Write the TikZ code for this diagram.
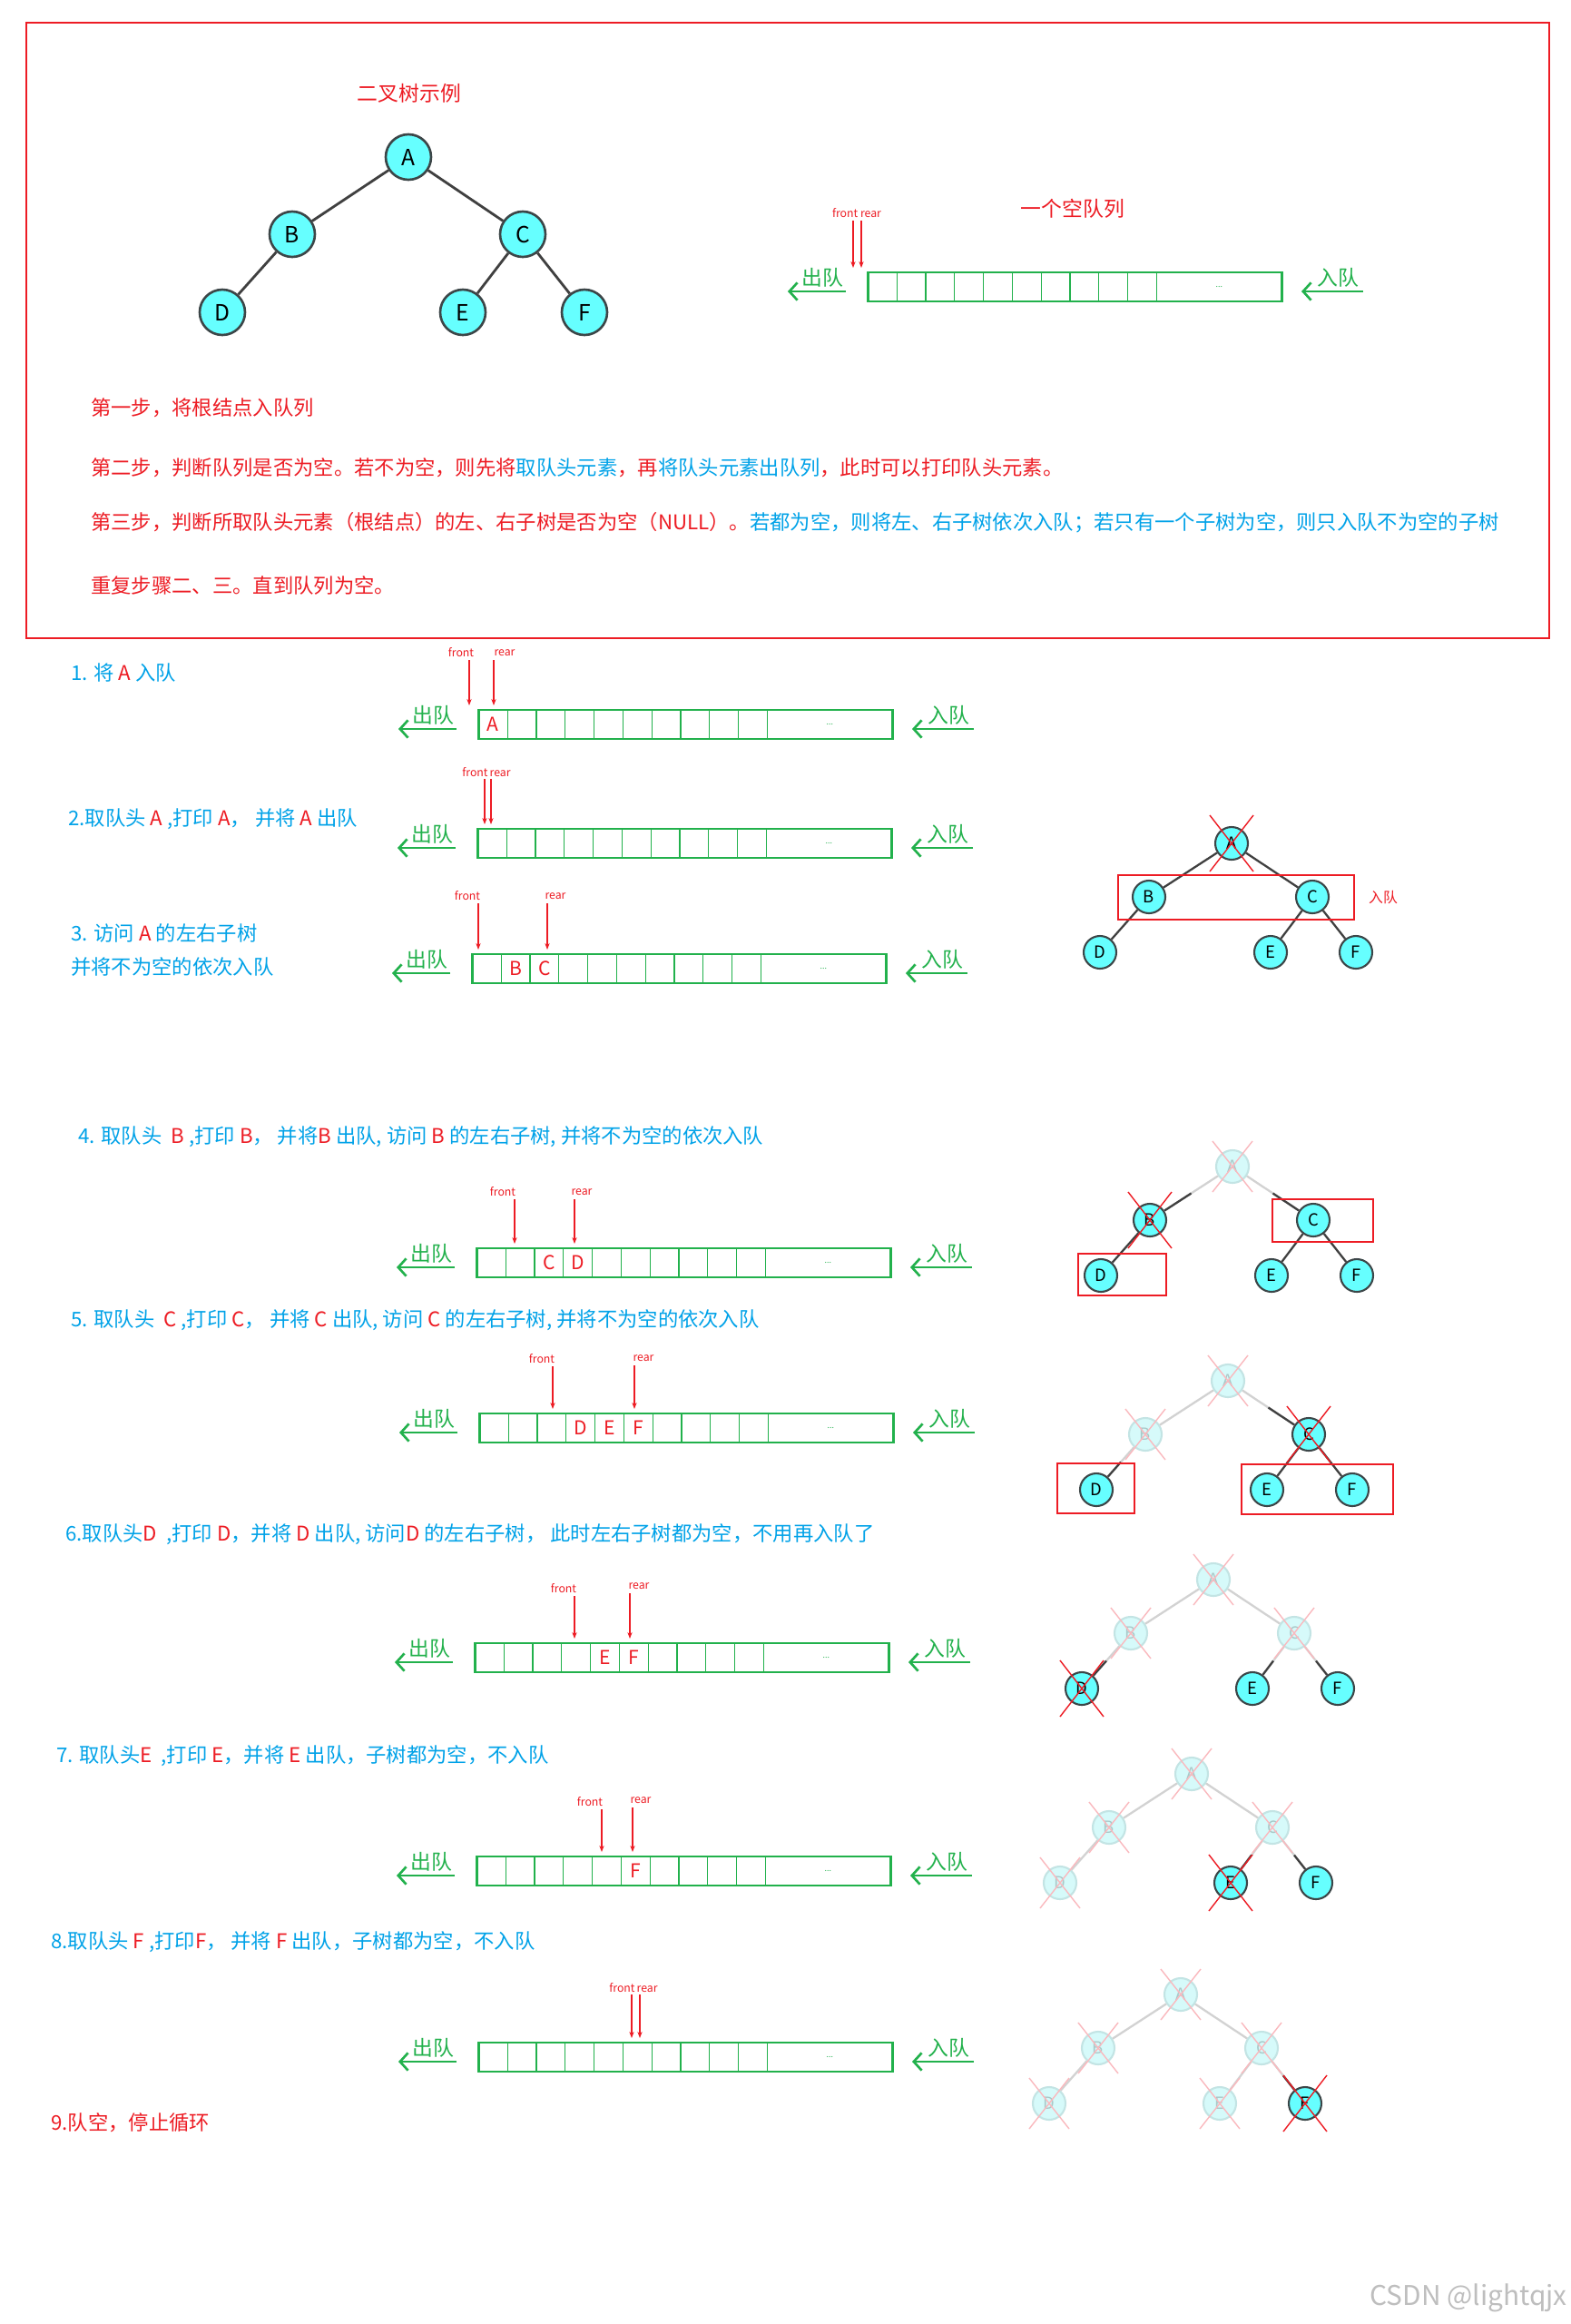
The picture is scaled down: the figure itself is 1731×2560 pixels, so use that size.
\documentclass[tikz,border=0pt]{standalone}
\usepackage{fontspec}
\setmainfont{Noto Sans CJK SC}
\usetikzlibrary{arrows.meta,calc}
\definecolor{qgreen}{RGB}{34,177,76}
\definecolor{tred}{RGB}{237,28,36}
\definecolor{tblue}{RGB}{0,162,232}
\definecolor{ncyan}{RGB}{102,255,255}
\definecolor{nborder}{RGB}{60,70,72}
\definecolor{edgedark}{RGB}{64,64,64}
\definecolor{fcyan}{RGB}{214,250,250}
\definecolor{fborder}{RGB}{195,228,228}
\definecolor{ftext}{RGB}{170,200,200}
\definecolor{fedge}{RGB}{210,210,210}
\definecolor{fred}{RGB}{250,185,190}
\definecolor{wmgray}{RGB}{190,190,190}
\newcommand{\Rd}[1]{\textcolor{tred}{#1}}
\newcommand{\Bl}[1]{\textcolor{tblue}{#1}}
\tikzset{
  lbl/.style={anchor=west, font=\fontsize{12.7}{14}\selectfont, inner sep=0},
  qcell/.style={minimum width=0.636cm, minimum height=0.64cm, inner sep=0, outer sep=0},
  qdots/.style={qcell, minimum width=2.76cm},
  qdiv/.style={draw=qgreen, line width=0.6pt},
  qframe/.style={draw=qgreen, line width=1.3pt},
  qtxt/.style={text=tred, font=\fontsize{12}{12}\selectfont, inner sep=0},
  qlab/.style={text=qgreen, font=\fontsize{13}{13}\selectfont, inner sep=0},
  qarr/.style={draw=qgreen, line width=1.5pt, -{Straight Barb[length=5pt,width=11pt]}},
  ptxt/.style={text=tred, font=\fontsize{7}{7}\selectfont, inner sep=0},
  ptr/.style={draw=tred, line width=0.6pt, -{Stealth[length=4pt,width=3pt]}},
  bignode/.style={circle, draw=nborder, fill=ncyan, line width=1.5pt, minimum size=1cm, inner sep=0, font=\fontsize{14}{14}\selectfont},
  st-n/.style={circle, draw=nborder, fill=ncyan, line width=1.2pt, minimum size=0.72cm, inner sep=0, font=\fontsize{10.5}{10.5}\selectfont},
  st-x/.style={st-n},
  st-f/.style={circle, draw=fborder, fill=fcyan, line width=1.2pt, minimum size=0.72cm, inner sep=0, text=ftext, font=\fontsize{10.5}{10.5}\selectfont},
  edark/.style={draw=edgedark, line width=1.3pt},
  efade/.style={draw=fedge, line width=1.3pt},
  xred/.style={draw=tred, line width=0.8pt},
  xfade/.style={draw=fred, line width=0.8pt},
  rbox/.style={draw=tred, line width=1.2pt},
}
\newcommand{\queue}[3]{%
  \foreach \i in {1,...,10}
    \node[qcell] (#1-\i) at ({#2+0.4+31.8*\i-15.9},{#3+16}) {};
  \node[qdots, anchor=west] (#1-d) at (#1-10.east) {};
  \node[font=\fontsize{5}{5}\selectfont, text=qgreen, inner sep=0] (#1-dt) at (#1-d) {...};
  \foreach \i in {1,...,10}
    \draw[qdiv] (#1-\i.north east) -- (#1-\i.south east);
  \draw[qframe] (#1-1.north west) rectangle (#1-d.south east);
  \node[qlab] (#1-ol) at ({#2-50},{#3+6}) {出队};
  \coordinate (#1-os) at ({#2-24},{#3+21});
  \coordinate (#1-oe) at ({#2-88},{#3+21});
  \draw[qarr] (#1-os) -- (#1-oe);
  \node[qlab] (#1-il) at ({#2+518},{#3+6}) {入队};
  \coordinate (#1-is) at ({#2+546},{#3+21});
  \coordinate (#1-ie) at ({#2+478},{#3+21});
  \draw[qarr] (#1-is) -- (#1-ie);
}
\newcommand{\qptr}[6]{%
  \node[ptxt] (#1) at (#3,#4) {#2};
  \coordinate (#1-s) at (#5,{#4+8});
  \coordinate (#1-e) at (#5,{#6-5});
  \draw[ptr] (#1-s) -- (#1-e);
}
\newcommand{\tedge}[4]{%
  \def\tmpf{f}\def\tmpa{#1}\def\tmpb{#2}%
  \ifx\tmpa\tmpf
    \ifx\tmpb\tmpf
      \draw[efade] (#3) -- (#4);
    \else
      \draw[efade] (#3) -- (#4);
      \draw[edark] ($(#3)!0.5!(#4)$) -- (#4);
    \fi
  \else
    \draw[edark] (#3) -- (#4);
  \fi
}
\newcommand{\tmark}[2]{%
  \def\tmpa{#1}\def\tmpx{x}\def\tmpf{f}%
  \ifx\tmpa\tmpx
    \draw[xred] ($(#2)+(-24,-31)$) -- ($(#2)+(24,31)$) ($(#2)+(24,-31)$) -- ($(#2)+(-24,31)$);
  \fi
  \ifx\tmpa\tmpf
    \draw[xfade] ($(#2)+(-22,-28)$) -- ($(#2)+(22,28)$) ($(#2)+(22,-28)$) -- ($(#2)+(-22,28)$);
  \fi
}
\newcommand{\smalltree}[9]{%
  \node[st-#4] (#1-A) at (#2,#3) {A};
  \node[st-#5] (#1-B) at ({#2-91},{#3+59}) {B};
  \node[st-#6] (#1-C) at ({#2+89},{#3+59}) {C};
  \node[st-#7] (#1-D) at ({#2-145},{#3+120}) {D};
  \node[st-#8] (#1-E) at ({#2+43},{#3+120}) {E};
  \node[st-#9] (#1-F) at ({#2+137},{#3+120}) {F};
  \tedge{#4}{#5}{#1-A}{#1-B}
  \tedge{#4}{#6}{#1-A}{#1-C}
  \tedge{#5}{#7}{#1-B}{#1-D}
  \tedge{#6}{#8}{#1-C}{#1-E}
  \tedge{#6}{#9}{#1-C}{#1-F}
  \tmark{#4}{#1-A}\tmark{#5}{#1-B}\tmark{#6}{#1-C}
  \tmark{#7}{#1-D}\tmark{#8}{#1-E}\tmark{#9}{#1-F}
}
\begin{document}
\begin{tikzpicture}[x=0.02cm,y=-0.02cm]
\fill[white] (0,0) rectangle (1731,2560);
\useasboundingbox (0,0) rectangle (1731,2560);
% ---------- top box ----------
\draw[draw=tred, line width=1.4pt] (29,25) rectangle (1707,703);
\node[text=tred, font=\fontsize{13}{13}\selectfont] (title1) at (451,103) {二叉树示例};
\node[bignode] (A) at (450,173) {A};
\node[bignode] (B) at (322,258) {B};
\node[bignode] (C) at (576,258) {C};
\node[bignode] (D) at (245,344) {D};
\node[bignode] (E) at (510,344) {E};
\node[bignode] (F) at (644,344) {F};
\draw[edark, line width=1.6pt] (A) -- (B);
\draw[edark, line width=1.6pt] (A) -- (C);
\draw[edark, line width=1.6pt] (B) -- (D);
\draw[edark, line width=1.6pt] (C) -- (E);
\draw[edark, line width=1.6pt] (C) -- (F);
\node[text=tred, font=\fontsize{13}{13}\selectfont] (title2) at (1182,230) {一个空队列};
\queue{q0}{956}{300}
\node[ptxt] (q0-p) at (944,235) {front rear};
\coordinate (q0-fs) at (940,243); \coordinate (q0-fe) at (940,295);
\coordinate (q0-rs) at (949,243); \coordinate (q0-re) at (949,295);
\draw[ptr] (q0-fs) -- (q0-fe);
\draw[ptr] (q0-rs) -- (q0-re);
\node[lbl, text=tred] (s1) at (100,449) {第一步，将根结点入队列};
\node[lbl, text=tred] (s2) at (100,515) {第二步，判断队列是否为空。若不为空，则先将\Bl{取队头元素}，再\Bl{将队头元素出队列}，此时可以打印队头元素。};
\node[lbl, text=tred] (s3) at (100,576) {第三步，判断所取队头元素（根结点）的左、右子树是否为空（NULL）。\Bl{若都为空，则将左、右子树依次入队；若只有一个子树为空，则只入队不为空的子树}};
\node[lbl, text=tred] (s4) at (100,645) {重复步骤二、三。直到队列为空。};
% ---------- step 1 ----------
\node[lbl, text=tblue] (l1) at (78,741) {1. 将 \Rd{A} 入队};
\queue{q1}{527}{782}
\node[qtxt] (q1-a) at (q1-1) {A};
\qptr{q1-f}{front}{508}{719}{517}{782}
\qptr{q1-r}{rear}{556}{719}{544}{782}
% ---------- step 2 ----------
\node[lbl, text=tblue] (l2) at (75,902) {2.取队头 \Rd{A} ,打印 \Rd{A}， 并将 \Rd{A} 出队};
\queue{q2}{526}{913}
\node[ptxt] (q2-p) at (536,851) {front\,rear};
\coordinate (q2-fs) at (534,858); \coordinate (q2-fe) at (534,908);
\coordinate (q2-rs) at (541,858); \coordinate (q2-re) at (541,908);
\draw[ptr] (q2-fs) -- (q2-fe);
\draw[ptr] (q2-rs) -- (q2-re);
% ---------- step 3 ----------
\node[lbl, text=tblue] (l3a) at (78,1028) {3. 访问 \Rd{A} 的左右子树};
\node[lbl, text=tblue] (l3b) at (78,1065) {并将不为空的依次入队};
\queue{q3}{520}{1051}
\node[qtxt] (q3-b) at (q3-2) {B};
\node[qtxt] (q3-c) at (q3-3) {C};
\qptr{q3-f}{front}{515}{987}{527}{1051}
\qptr{q3-r}{rear}{612}{987}{603}{1051}
\smalltree{t2}{1357}{929}{x}{n}{n}{n}{n}{n}
\draw[rbox] (1232,964) rectangle (1492,1013);
\node[text=tred, font=\fontsize{9}{9}\selectfont, inner sep=0] (t2-in) at (1524,988) {入队};
% ---------- step 4 ----------
\node[lbl, text=tblue] (l4) at (86,1252) {4. 取队头 \ \Rd{B} ,打印 \Rd{B}， 并将\Rd{B} 出队, 访问 \Rd{B} 的左右子树, 并将不为空的依次入队};
\queue{q4}{525}{1375}
\node[qtxt] (q4-c) at (q4-3) {C};
\node[qtxt] (q4-d) at (q4-4) {D};
\qptr{q4-f}{front}{554}{1313}{567}{1375}
\qptr{q4-r}{rear}{641}{1313}{633}{1375}
\smalltree{t4}{1358}{1285}{f}{x}{n}{n}{n}{n}
\draw[rbox] (1402,1321) rectangle (1513,1368);
\draw[rbox] (1188,1381) rectangle (1285,1427);
% ---------- step 5 ----------
\node[lbl, text=tblue] (l5) at (78,1454) {5. 取队头 \ \Rd{C} ,打印 \Rd{C}， 并将 \Rd{C} 出队, 访问 \Rd{C} 的左右子树, 并将不为空的依次入队};
\queue{q5}{528}{1557}
\node[qtxt] (q5-d) at (q5-4) {D};
\node[qtxt] (q5-e) at (q5-5) {E};
\node[qtxt] (q5-f) at (q5-6) {F};
\qptr{q5-fp}{front}{597}{1497}{609}{1557}
\qptr{q5-rp}{rear}{709}{1496}{699}{1557}
\smalltree{t5}{1353}{1521}{f}{f}{x}{n}{n}{n}
\draw[rbox] (1165,1612) rectangle (1250,1667);
\draw[rbox] (1368,1613) rectangle (1535,1668);
% ---------- step 6 ----------
\node[lbl, text=tblue] (l6) at (72,1690) {6.取队头\Rd{D} \ ,打印 \Rd{D}，并将 \Rd{D} 出队, 访问\Rd{D} 的左右子树， 此时左右子树都为空，不用再入队了};
\queue{q6}{523}{1810}
\node[qtxt] (q6-e) at (q6-5) {E};
\node[qtxt] (q6-f) at (q6-6) {F};
\qptr{q6-fp}{front}{621}{1750}{633}{1810}
\qptr{q6-rp}{rear}{704}{1747}{694}{1810}
\smalltree{t6}{1337}{1740}{f}{f}{f}{x}{n}{n}
% ---------- step 7 ----------
\node[lbl, text=tblue] (l7) at (62,1934) {7. 取队头\Rd{E} \ ,打印 \Rd{E}，并将 \Rd{E} 出队，子树都为空，不入队};
\queue{q7}{525}{2045}
\node[qtxt] (q7-f) at (q7-6) {F};
\qptr{q7-fp}{front}{650}{1985}{663}{2045}
\qptr{q7-rp}{rear}{706}{1983}{697}{2045}
\smalltree{t7}{1313}{1954}{f}{f}{f}{f}{x}{n}
% ---------- step 8 ----------
\node[lbl, text=tblue] (l8) at (56,2139) {8.取队头 \Rd{F} ,打印\Rd{F}， 并将 \Rd{F} 出队，子树都为空，不入队};
\queue{q8}{527}{2250}
\node[ptxt] (q8-p) at (698,2190) {front\,rear};
\coordinate (q8-fs) at (696,2197); \coordinate (q8-fe) at (696,2245);
\coordinate (q8-rs) at (705,2197); \coordinate (q8-re) at (705,2245);
\draw[ptr] (q8-fs) -- (q8-fe);
\draw[ptr] (q8-rs) -- (q8-re);
\smalltree{t8}{1301}{2197}{f}{f}{f}{f}{f}{x}
% ---------- step 9 ----------
\node[lbl, text=tred] (l9) at (56,2338) {9.队空，停止循环};
\node[anchor=east, text=wmgray, font=\fontsize{17}{17}\selectfont, inner sep=0] (wm) at (1727,2531) {CSDN @lightqjx};
\end{tikzpicture}
\end{document}
